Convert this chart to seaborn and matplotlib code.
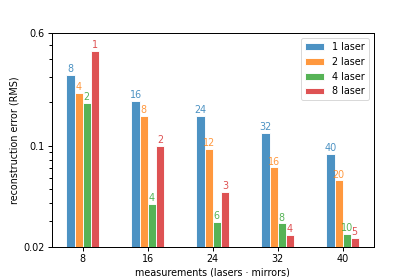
import numpy as np
import pandas as pd
import matplotlib
matplotlib.use("Agg")
import matplotlib.pyplot as plt
import seaborn as sns

measurements = [8, 16, 24, 32, 40]
lasers = ["1 laser", "2 laser", "4 laser", "8 laser"]
err_1 = [0.307, 0.203, 0.161, 0.123, 0.087]
err_2 = [0.233, 0.161, 0.095, 0.0706, 0.0574]
err_4 = [0.196, 0.0396, 0.0297, 0.0289, 0.0245]
err_8 = [0.452, 0.100, 0.0476, 0.0241, 0.0230]
mirrors_1 = [8, 16, 24, 32, 40]
mirrors_2 = [4, 8, 12, 16, 20]
mirrors_4 = [2, 4, 6, 8, 10]
mirrors_8 = [1, 2, 3, 4, 5]

errors = [err_1, err_2, err_4, err_8]
mirrors = [mirrors_1, mirrors_2, mirrors_4, mirrors_8]

rows = []
for name, errs in zip(lasers, errors):
    for m, e in zip(measurements, errs):
        rows.append({"measurements": m, "error": e, "lasers": name})
df = pd.DataFrame(rows)

plt.rcParams["font.size"] = 10.7
plt.rcParams["axes.linewidth"] = 1.1

colors = sns.color_palette("tab10", 4)
palette = {name: (*c, 0.8) for name, c in zip(lasers, colors)}

fig, ax = plt.subplots(figsize=(415 / 65, 277 / 65), dpi=65)
sns.barplot(data=df, x="measurements", y="error", hue="lasers",
            hue_order=lasers, palette=palette, native_scale=True,
            saturation=1, width=0.5, edgecolor="white", linewidth=1, ax=ax)

ax.set_yscale("log")
ax.set_ylim(0.02, 0.6)
ax.set_yticks([0.02, 0.1, 0.6], ["0.02", "0.1", "0.6"])
minor = [0.03, 0.04, 0.05, 0.06, 0.07, 0.08, 0.09, 0.2, 0.3, 0.4, 0.5]
ax.set_yticks(minor, [""] * len(minor), minor=True)
ax.set_xticks(measurements)
ax.set_xticklabels([str(m) for m in measurements])
ax.tick_params(which="both", direction="out", color="black",
               left=True, bottom=True)
ax.tick_params(which="minor", length=3, width=1.1)
ax.tick_params(which="major", length=4.5, width=1.1)

for cont, labs, name in zip(ax.containers, mirrors, lasers):
    ax.bar_label(cont, labels=[str(l) for l in labs], color=palette[name],
                 padding=1)

ax.set_xlabel("measurements (lasers \u00b7 mirrors)")
ax.set_ylabel("reconstruction error (RMS)")
ax.legend(loc="upper right", title=None)

fig.savefig("out.png", dpi=65)
